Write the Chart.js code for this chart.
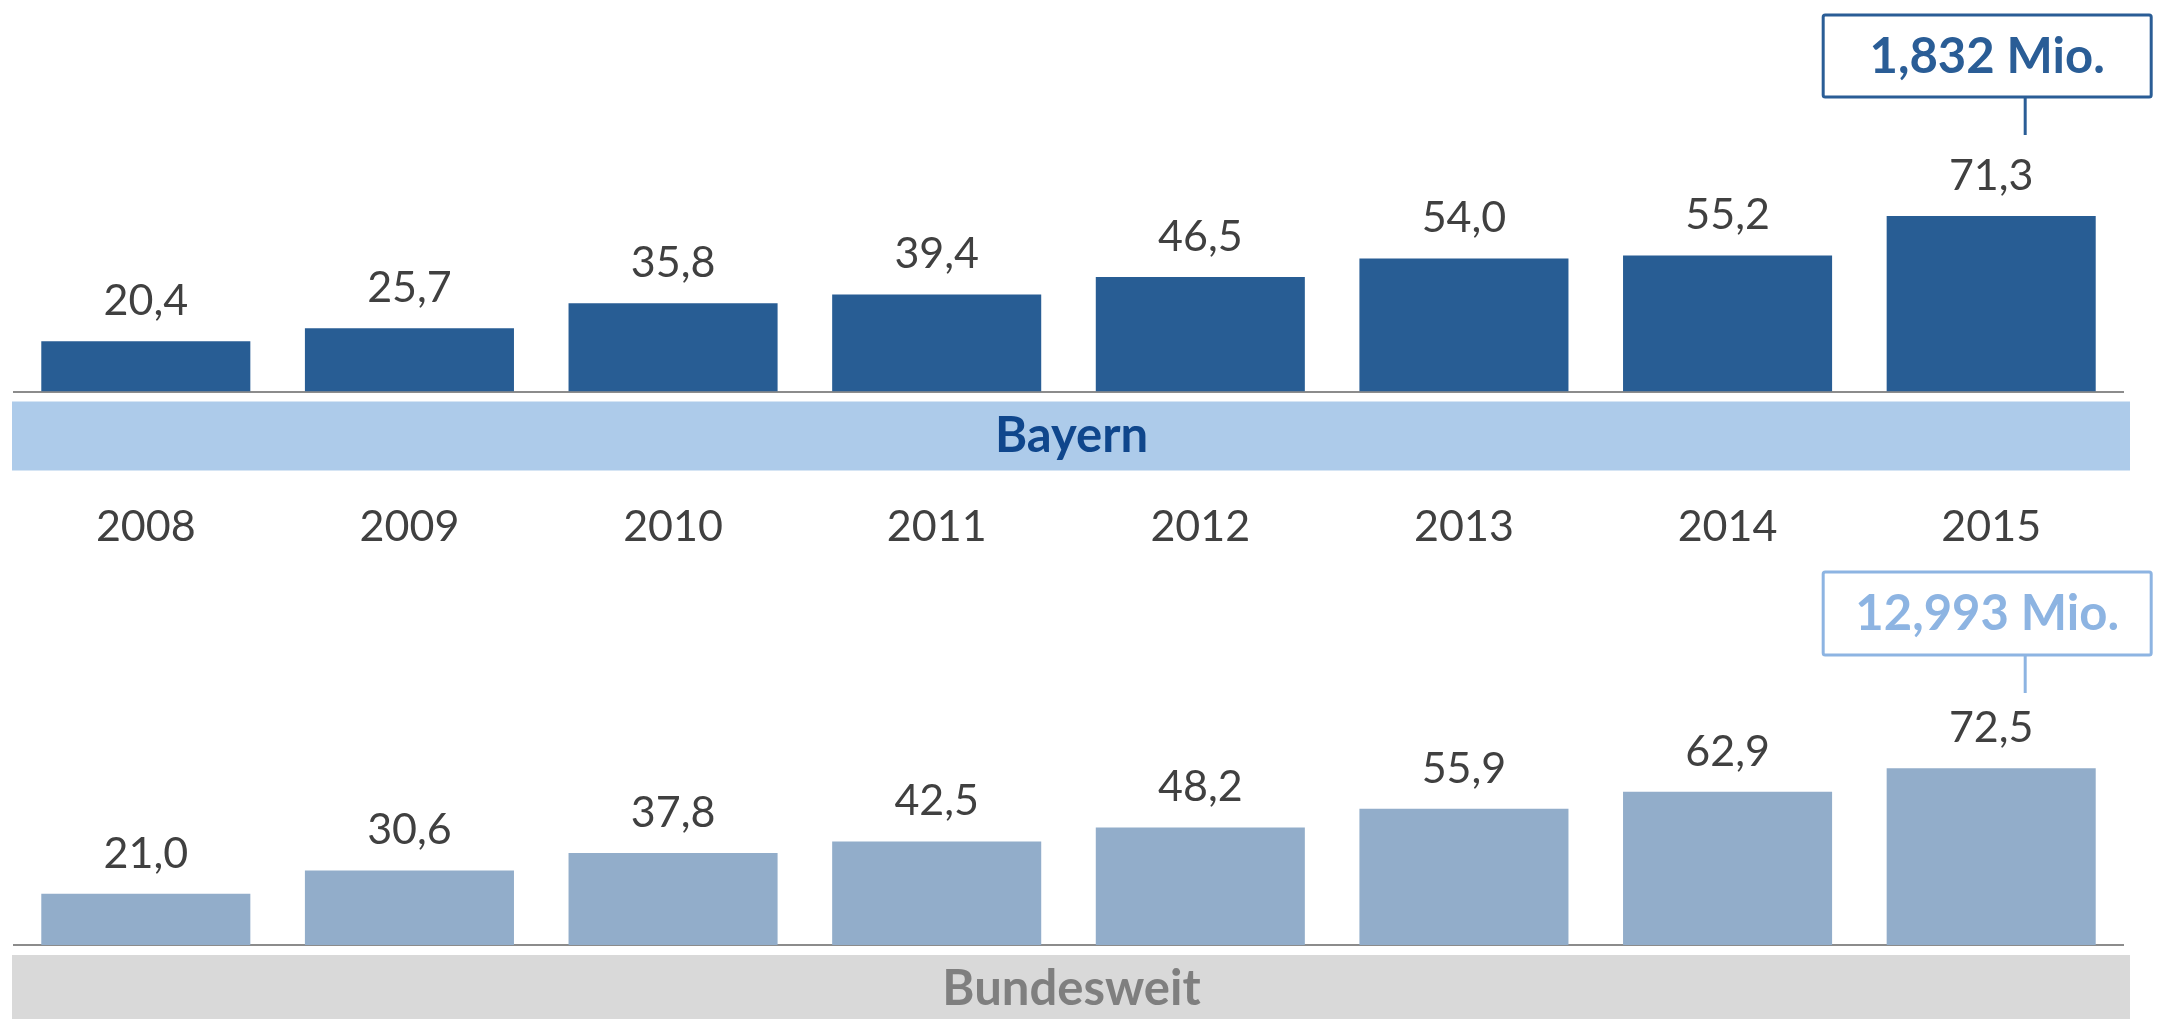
<!DOCTYPE html>
<html>
<head>
<meta charset="utf-8">
<script src="https://cdn.jsdelivr.net/npm/chart.js@4.4.0/dist/chart.umd.min.js"></script>
<style>
  html, body { margin: 0; padding: 0; background: #fff; overflow: hidden; }
  #wrap { position: relative; width: 2157px; height: 1019px; }
  #bayChart { position: absolute; left: 0; top: 0; }
  #bundChart { position: absolute; left: 0; top: 560px; }
</style>
</head>
<body>
<div id="wrap">
  <canvas id="bayChart" width="2157" height="549"></canvas>
  <canvas id="bundChart" width="2157" height="459"></canvas>
</div>
<script>
// Jahre und Werte
const years = ['2008', '2009', '2010', '2011', '2012', '2013', '2014', '2015'];
const bayernValues = [20.4, 25.7, 35.8, 39.4, 46.5, 54.0, 55.2, 71.3];
const bundValues = [21.0, 30.6, 37.8, 42.5, 48.2, 55.9, 62.9, 72.5];
const bayernTotal = '1,832 Mio.';
const bundTotal = '12,993 Mio.';

// band, value labels and callout box
const panelDeco = {
  id: 'panelDeco',
  afterDatasetsDraw(chart, args, opts) {
    const ctx = chart.ctx;
    const area = chart.chartArea;
    const meta = chart.getDatasetMeta(0);
    const vals = chart.data.datasets[0].data;
    ctx.save();

    // band under the axis
    ctx.fillStyle = opts.bandColor;
    ctx.fillRect(area.left - 2, area.bottom + 10, area.right - area.left + 9, 69);
    ctx.font = 'bold 49px Lato';
    ctx.fillStyle = opts.bandTextColor;
    ctx.textAlign = 'center';
    ctx.textBaseline = 'middle';
    ctx.fillText(opts.bandText, (area.left + area.right) / 2 + 3, area.bottom + 44.5);

    // values above the bars
    ctx.font = '43px Lato';
    ctx.fillStyle = '#404040';
    meta.data.forEach((bar, i) => {
      ctx.fillText(vals[i].toFixed(1).replace('.', ','), bar.x, bar.y - 40);
    });

    // callout over the last bar
    const last = meta.data[meta.data.length - 1];
    const bw = 328, bh = opts.boxH;
    const bx = last.x - 4 - bw / 2;
    const by = opts.boxTop;
    ctx.strokeStyle = opts.calloutColor;
    ctx.lineWidth = 3;
    ctx.beginPath();
    ctx.roundRect(bx, by, bw, bh, 2);
    ctx.stroke();
    ctx.beginPath();
    ctx.moveTo(last.x + 34, by + bh);
    ctx.lineTo(last.x + 34, by + bh + 38);
    ctx.stroke();
    ctx.font = 'bold 49px Lato';
    ctx.fillStyle = opts.calloutColor;
    ctx.fillText(opts.calloutText, last.x - 4, by + bh / 2 + 1);

    ctx.restore();
  }
};

function makeChart(id, values, barColor, yMax, showYears, axisH, padBottom, deco) {
  return new Chart(document.getElementById(id), {
    type: 'bar',
    data: {
      labels: years,
      datasets: [{
        data: values,
        backgroundColor: barColor,
        borderWidth: 0,
        categoryPercentage: 1,
        barPercentage: 0.793
      }]
    },
    plugins: [panelDeco],
    options: {
      responsive: false,
      animation: false,
      layout: { padding: { left: 14, right: 34, top: 0, bottom: padBottom } },
      plugins: {
        legend: { display: false },
        tooltip: { enabled: false },
        panelDeco: deco
      },
      scales: {
        x: {
          grid: { display: false },
          border: { display: true, color: '#8c8c8c', width: 2 },
          ticks: {
            display: showYears,
            color: '#404040',
            padding: 102,
            font: { family: 'Lato', size: 43 }
          },
          afterFit(scale) {
            scale.height = axisH;
            scale.paddingLeft = 0;
            scale.paddingRight = 0;
          }
        },
        y: {
          display: false,
          min: 0,
          max: yMax
        }
      }
    }
  });
}

makeChart('bayChart', bayernValues, '#285d94', 159, true, 157.5, 0, {
  bandColor: '#adcbea',
  bandText: 'Bayern',
  bandTextColor: '#0f468c',
  calloutColor: '#2a5d96',
  calloutText: bayernTotal,
  boxTop: 15,
  boxH: 82
});

makeChart('bundChart', bundValues, '#92adca', 158, false, 0, 74, {
  bandColor: '#d9d9d9',
  bandText: 'Bundesweit',
  bandTextColor: '#7f7f7f',
  calloutColor: '#8db4e2',
  calloutText: bundTotal,
  boxTop: 12,
  boxH: 83
});
</script>
</body>
</html>
